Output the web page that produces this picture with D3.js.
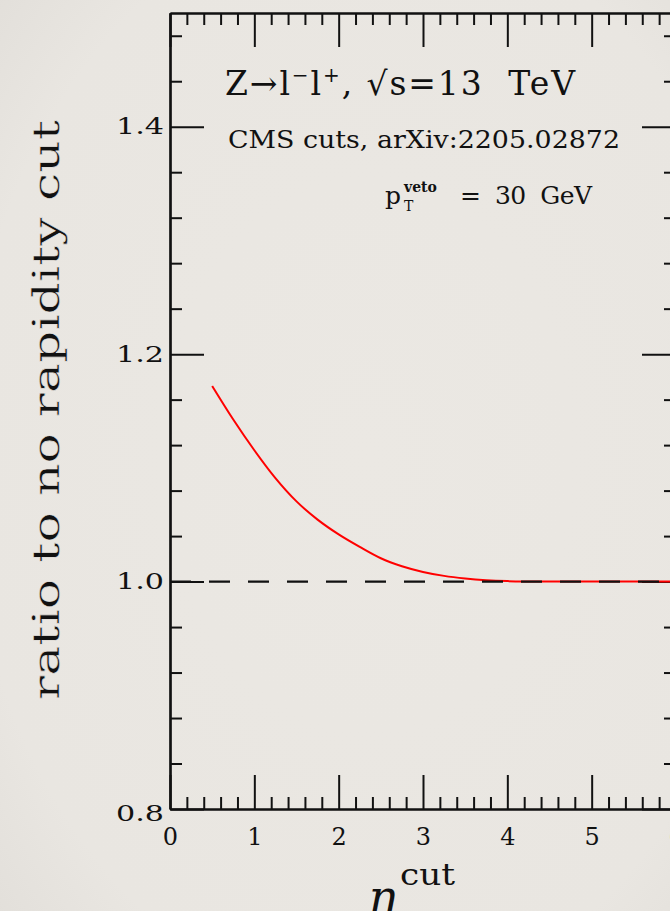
<!DOCTYPE html>
<html>
<head>
<meta charset="utf-8">
<script src="https://cdn.jsdelivr.net/npm/d3@7"></script>
<style>
  html, body { margin: 0; padding: 0; background: #eae7e2; }
  svg { display: block; }
  text { font-family: "DejaVu Serif", serif; fill: #111; white-space: pre; }
</style>
</head>
<body>
<svg id="chart" width="670" height="911"></svg>
<script>
// values
var etaCut = [0.5, 0.75, 1.0, 1.25, 1.5, 1.75, 2.0, 2.25, 2.5, 2.75, 3.0, 3.25, 3.5, 3.75, 4.0, 4.25, 4.5, 5.0, 5.5, 6.0];
var ratio  = [1.172, 1.1425, 1.1155, 1.091, 1.0705, 1.0545, 1.0415, 1.0305, 1.0205, 1.0135, 1.0085, 1.005, 1.0027, 1.0012, 1.0004, 1.0001, 1.0, 1.0, 1.0, 1.0];
var xTicks = [0, 1, 2, 3, 4, 5, 6];
var yTicks = [0.8, 1.0, 1.2, 1.4];
var refLine = [1.0];

var svg = d3.select('#chart');

// paper-ish background, slightly darker corners
var defs = svg.append('defs');
var grad = defs.append('radialGradient').attr('id', 'paper').attr('cx', '55%').attr('cy', '50%').attr('r', '80%');
grad.append('stop').attr('offset', '0%').attr('stop-color', '#ebe8e3');
grad.append('stop').attr('offset', '75%').attr('stop-color', '#e9e6e1');
grad.append('stop').attr('offset', '100%').attr('stop-color', '#e0ddd8');
svg.append('rect').attr('width', 670).attr('height', 911).attr('fill', 'url(#paper)');

var x = d3.scaleLinear().domain([0, 6]).range([170, 676]);
var y = d3.scaleLinear().domain([0.8, 1.5]).range([809, 13]);

var xMinor = d3.range(0, 6.001, 0.2).filter(function(v) { return Math.abs(v - Math.round(v)) > 1e-6; });
var yMinor = d3.range(0.8, 1.5001, 0.04).filter(function(v) { return Math.abs(v * 5 - Math.round(v * 5)) > 1e-6; });

function styleAxis(g) {
  g.select('.domain').attr('stroke', '#111').attr('stroke-width', 2.2);
  g.selectAll('.tick line').attr('stroke', '#111').attr('stroke-width', 2);
  g.selectAll('.tick text').attr('fill', '#111').style('font-family', '"DejaVu Serif", serif');
}

// bottom
var gB = svg.append('g').attr('transform', 'translate(0,' + y(0.8) + ')')
  .call(d3.axisBottom(x).tickValues(xTicks).tickFormat(d3.format('d')).tickSizeInner(-34).tickSizeOuter(0).tickPadding(19));
styleAxis(gB);
gB.selectAll('.tick text').style('font-size', '24px');
svg.append('g').attr('transform', 'translate(0,' + y(0.8) + ')')
  .call(d3.axisBottom(x).tickValues(xMinor).tickFormat('').tickSizeInner(-12).tickSizeOuter(0)).call(styleAxis);

// top
svg.append('g').attr('transform', 'translate(0,' + y(1.5) + ')')
  .call(d3.axisTop(x).tickValues(xTicks).tickFormat('').tickSizeInner(-34).tickSizeOuter(0)).call(styleAxis);
svg.append('g').attr('transform', 'translate(0,' + y(1.5) + ')')
  .call(d3.axisTop(x).tickValues(xMinor).tickFormat('').tickSizeInner(-12).tickSizeOuter(0)).call(styleAxis);

// left
var gL = svg.append('g').attr('transform', 'translate(' + x(0) + ',0)')
  .call(d3.axisLeft(y).tickValues(yTicks).tickFormat(d3.format('.1f')).tickSizeInner(-34).tickSizeOuter(0).tickPadding(6));
styleAxis(gL);
gL.selectAll('.tick text').style('font-size', '22px')
  .attr('textLength', 48).attr('lengthAdjust', 'spacingAndGlyphs');
gL.selectAll('.tick').filter(function(d) { return d === 0.8; }).select('text').attr('dy', '0.5em');
svg.append('g').attr('transform', 'translate(' + x(0) + ',0)')
  .call(d3.axisLeft(y).tickValues(yMinor).tickFormat('').tickSizeInner(-12).tickSizeOuter(0)).call(styleAxis);

// right
svg.append('g').attr('transform', 'translate(' + x(6) + ',0)')
  .call(d3.axisRight(y).tickValues(yTicks).tickFormat('').tickSizeInner(-34).tickSizeOuter(0)).call(styleAxis);
svg.append('g').attr('transform', 'translate(' + x(6) + ',0)')
  .call(d3.axisRight(y).tickValues(yMinor).tickFormat('').tickSizeInner(-12).tickSizeOuter(0)).call(styleAxis);

// red ratio curve
var line = d3.line()
  .x(function(d) { return x(d[0]); })
  .y(function(d) { return y(d[1]); })
  .curve(d3.curveMonotoneX);
svg.append('path')
  .datum(d3.zip(etaCut, ratio))
  .attr('d', line)
  .attr('fill', 'none')
  .attr('stroke', '#ff0000')
  .attr('stroke-width', 2);

// dashed reference at 1
svg.selectAll('line.ref').data(refLine).enter().append('line')
  .attr('class', 'ref')
  .attr('x1', x(0)).attr('x2', x(6))
  .attr('y1', function(d) { return y(d); }).attr('y2', function(d) { return y(d); })
  .attr('stroke', '#111').attr('stroke-width', 2.2)
  .attr('stroke-dasharray', '21,18');

// labels
var t1 = svg.append('text').attr('x', 225).attr('y', 95).style('font-size', '33px')
  .attr('textLength', 350).attr('lengthAdjust', 'spacing');
t1.append('tspan').text('Z\u2192l');
t1.append('tspan').attr('dy', -13).style('font-size', '20px').text('\u2212');
t1.append('tspan').attr('dy', 13).text('l');
t1.append('tspan').attr('dy', -13).style('font-size', '20px').text('+');
t1.append('tspan').attr('dy', 13).text(', \u221As=13  TeV');

svg.append('text').attr('x', 228).attr('y', 148).style('font-size', '24px')
  .attr('textLength', 392).attr('lengthAdjust', 'spacingAndGlyphs')
  .text('CMS cuts, arXiv:2205.02872');

svg.append('text').attr('x', 385).attr('y', 204).style('font-size', '25px').text('p');
svg.append('text').attr('x', 404).attr('y', 192).style('font-size', '14px').style('font-weight', 'bold').text('veto');
svg.append('text').attr('x', 404).attr('y', 211).style('font-size', '14px').text('T');
svg.append('text').attr('x', 460).attr('y', 204).style('font-size', '25px')
  .attr('textLength', 132).attr('lengthAdjust', 'spacing')
  .text('=  30  GeV');

// axis titles (light paper-coloured outline to thin the strokes a bit)
svg.append('text')
  .attr('transform', 'translate(59,410) rotate(-90)')
  .attr('text-anchor', 'middle')
  .style('font-size', '38px')
  .style('fill', '#111')
  .style('stroke', '#e9e6e1').style('stroke-width', 0.5)
  .attr('textLength', 580).attr('lengthAdjust', 'spacingAndGlyphs')
  .text('ratio to no rapidity cut');

svg.append('text').attr('x', 368).attr('y', 913).style('font-size', '46px').style('font-style', 'italic').text('\u03B7');
svg.append('text').attr('x', 400).attr('y', 885).style('font-size', '30px')
  .attr('textLength', 55).attr('lengthAdjust', 'spacingAndGlyphs').text('cut');
</script>
</body>
</html>
